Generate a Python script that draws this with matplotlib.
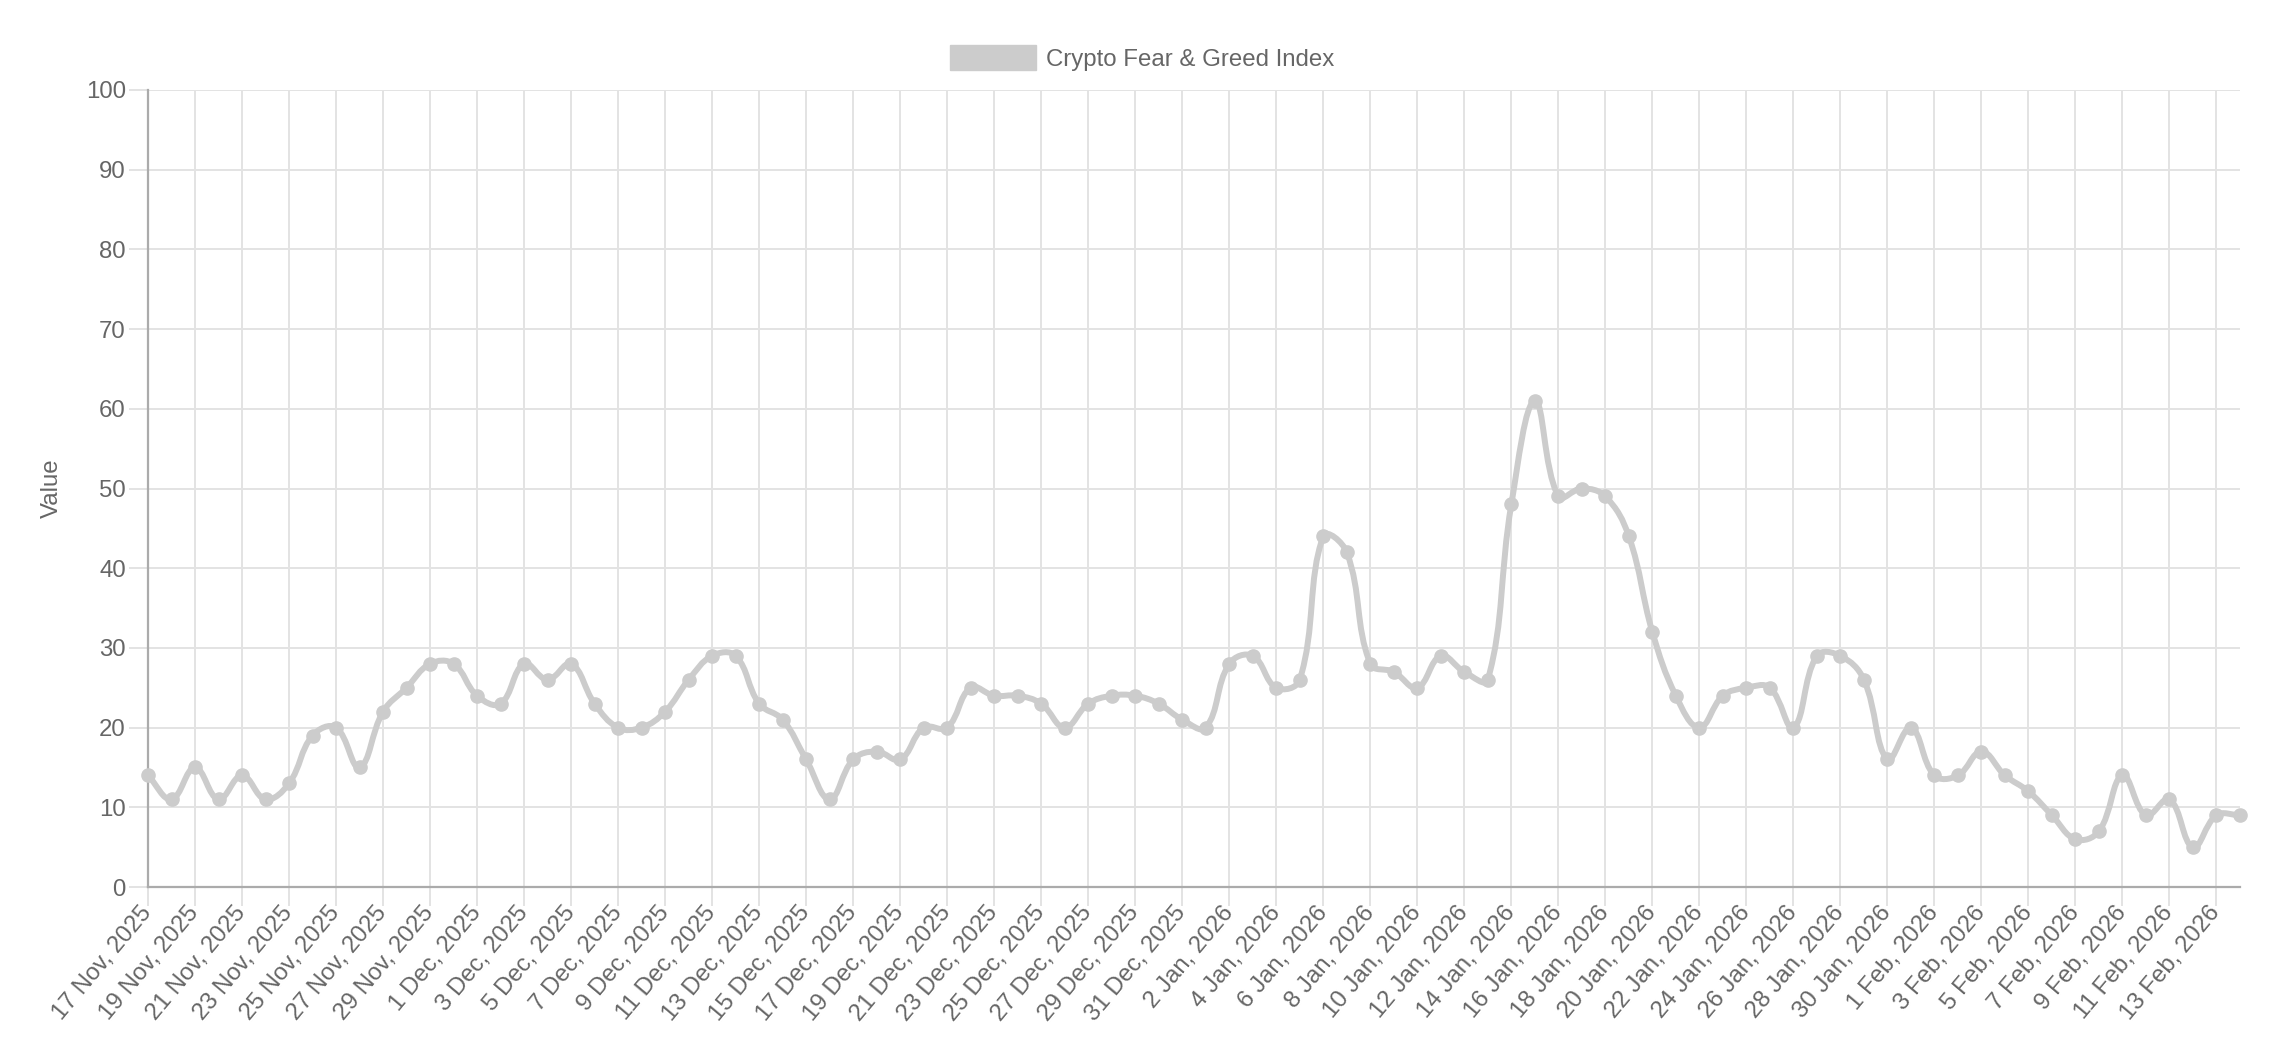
#-*- coding:utf-8 -*-

"""
    Crypto Fear & Greed Index 折线图
"""

import numpy as np
import pandas as pd
import matplotlib
matplotlib.use('Agg')
import matplotlib.pyplot as plt
from matplotlib.path import Path
from matplotlib.patches import PathPatch, Patch

# 数据
start_date = '2025-11-17'
values = [14, 11, 15, 11, 14, 11, 13, 19, 20, 15,
          22, 25, 28, 28, 24, 23, 28, 26, 28, 23,
          20, 20, 22, 26, 29, 29, 23, 21, 16, 11,
          16, 17, 16, 20, 20, 25, 24, 24, 23, 20,
          23, 24, 24, 23, 21, 20, 28, 29, 25, 26,
          44, 42, 28, 27, 25, 29, 27, 26, 48, 61,
          49, 50, 49, 44, 32, 24, 20, 24, 25, 25,
          20, 29, 29, 26, 16, 20, 14, 14, 17, 14,
          12, 9, 6, 7, 14, 9, 11, 5, 9, 9]
series_name = 'Crypto Fear & Greed Index'
y_label = 'Value'
y_ticks = list(range(0, 101, 10))

dates = pd.date_range(start_date, periods=len(values), freq='D')
labels = ['%d %s, %d' % (d.day, d.strftime('%b'), d.year) for d in dates]

line_color = '#cccccc'
text_color = '#666666'
grid_color = '#e3e3e3'
axis_color = '#ababab'
fs = 17.3

plt.rcParams['font.family'] = ['Liberation Sans', 'DejaVu Sans']


# 类似 Chart.js 的三次样条控制点 (tension 0.4), 在像素坐标下计算
def spline_controls(px, py, t=0.4):
    n = len(px)
    prev_c, next_c = [], []
    for i in range(n):
        a = max(i - 1, 0)
        b = min(i + 1, n - 1)
        d01 = np.hypot(px[i] - px[a], py[i] - py[a])
        d12 = np.hypot(px[b] - px[i], py[b] - py[i])
        tot = d01 + d12
        s01 = d01 / tot if tot else 0
        s12 = d12 / tot if tot else 0
        dx, dy = px[b] - px[a], py[b] - py[a]
        prev_c.append((px[i] - t * s01 * dx, py[i] - t * s01 * dy))
        next_c.append((px[i] + t * s12 * dx, py[i] + t * s12 * dy))
    return prev_c, next_c


W, H = 2272, 1048
fig = plt.figure(figsize=(W / 100, H / 100), dpi=100)
ax = fig.add_axes([148 / W, 1 - 887 / H, 2092 / W, 797 / H])

x = np.arange(len(values))
ax.set_xlim(0, len(values) - 1)
ax.set_ylim(0, 100)

# 平滑曲线
fig.canvas.draw()
disp = ax.transData.transform(np.column_stack([x, values]))
pc, nc = spline_controls(disp[:, 0], disp[:, 1])
verts = [tuple(disp[0])]
codes = [Path.MOVETO]
for i in range(len(values) - 1):
    verts += [nc[i], pc[i + 1], tuple(disp[i + 1])]
    codes += [Path.CURVE4] * 3
verts = ax.transData.inverted().transform(verts)
ax.add_patch(PathPatch(Path(verts, codes), facecolor='none', edgecolor=line_color,
                       linewidth=4.3, capstyle='round', joinstyle='round',
                       zorder=3, clip_on=False))
ax.plot(x, values, linestyle='none', marker='o', markersize=9.5,
        markerfacecolor=line_color, markeredgecolor=line_color, zorder=4,
        clip_on=False)

# 坐标轴
ax.set_yticks(y_ticks)
ax.set_xticks(x[::2])
ax.set_xticklabels(labels[::2], rotation=50, ha='right', va='center',
                   rotation_mode='anchor')
ax.grid(True, color=grid_color, linewidth=1.44)
ax.set_axisbelow(True)
ax.tick_params(length=14, width=1.44, color=grid_color, labelcolor=text_color,
               labelsize=fs, pad=2)
ax.xaxis.get_major_ticks()[0].tick1line.set_color(axis_color)
ax.yaxis.get_major_ticks()[0].tick1line.set_color(axis_color)
for s in ['top', 'right']:
    ax.spines[s].set_visible(False)
for s in ['left', 'bottom']:
    ax.spines[s].set_color(axis_color)
    ax.spines[s].set_linewidth(1.6)
    ax.spines[s].set_zorder(2)

ax.set_ylabel(y_label, fontsize=fs, color=text_color)
ax.yaxis.set_label_coords(-0.0406, 0.5)

fig.legend(handles=[Patch(facecolor=line_color, edgecolor=line_color)],
           labels=[series_name], loc='center', bbox_to_anchor=(1142 / W, 1 - 58 / H),
           frameon=False, fontsize=fs, handlelength=3.6, handleheight=1.2,
           handletextpad=0.4, labelcolor=text_color)

plt.savefig('out.png', dpi=100)
